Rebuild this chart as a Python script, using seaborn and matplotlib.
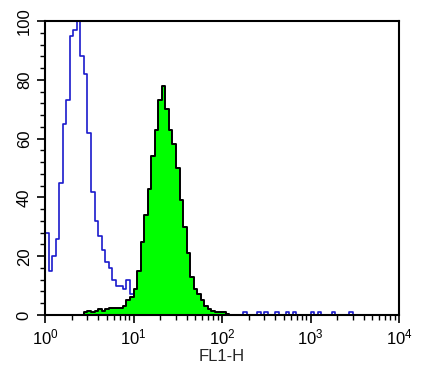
import numpy as np
import pandas as pd
import matplotlib
matplotlib.use("Agg")
import matplotlib.pyplot as plt
import seaborn as sns
from matplotlib.ticker import LogLocator, MultipleLocator

# 100 log-spaced channels over 4 decades (25 per decade)
n_bins = 100
decades = (0, 4)

control_counts = [
    28, 15, 20, 26, 45, 65, 73, 95, 97, 100,
    88, 82, 62, 42, 32, 27, 22, 18, 16, 12,
    10, 10, 9, 12, 7, 8, 5, 3, 2, 1,
    0, 0, 0, 0, 0, 0, 0, 0, 0, 0,
    0, 0, 0, 0, 0, 0, 0, 0, 0, 0,
    0, 0, 0, 0, 0, 0, 1, 0, 0, 0,
    1, 0, 1, 0, 0, 1, 0, 0, 1, 0,
    1, 0, 0, 0, 0, 1, 0, 1, 0, 0,
    0, 1, 0, 0, 0, 0, 1, 0, 0, 0,
    0, 0, 0, 0, 0, 0, 0, 0, 0, 0,
]
stained_counts = [
    0, 0, 0, 0, 0, 0, 0, 0, 0, 0,
    0, 1, 1.5, 1, 1.5, 2, 1.5, 2, 2.5, 2.5,
    2.5, 2.5, 3, 5, 6, 9, 15, 25, 34, 43,
    54, 63, 73, 78, 70, 63, 58, 50, 39, 30,
    21, 13, 9, 7, 5, 3, 2, 1.5, 1, 1,
    1, 0.5, 0, 0, 0, 0, 0, 0, 0, 0,
    0, 0, 0, 0, 0, 0, 0, 0, 0, 0,
    0, 0, 0, 0, 0, 0, 0, 0, 0, 0,
    0, 0, 0, 0, 0, 0, 0, 0, 0, 0,
    0, 0, 0, 0, 0, 0, 0, 0, 0, 0,
]

log_centers = decades[0] + (np.arange(n_bins) + 0.5) * (decades[1] - decades[0]) / n_bins
channels = 10 ** log_centers

df = pd.DataFrame({"FL1-H": channels,
                   "control": control_counts,
                   "stained": stained_counts})

sns.set_style("white")
plt.rcParams["font.family"] = ["Liberation Sans", "DejaVu Sans"]

fig = plt.figure(figsize=(4.22, 3.69), dpi=100)
ax = fig.add_axes([45 / 422, 1 - 315 / 369, (399 - 45) / 422, (315 - 21) / 369])

sns.histplot(data=df, x="FL1-H", weights="control", bins=n_bins, binrange=decades,
             log_scale=True, element="step", fill=False, color="#1a1acc",
             linewidth=1.2, zorder=2, ax=ax)
sns.histplot(data=df, x="FL1-H", weights="stained", bins=n_bins, binrange=decades,
             log_scale=True, element="step", fill=True, facecolor="#00ff00",
             edgecolor="black", alpha=1, linewidth=1.4, zorder=3, ax=ax)

ax.set_xlim(1, 1e4)
ax.set_ylim(0, 100)
ax.xaxis.set_major_locator(LogLocator(base=10, numticks=10))
ax.xaxis.set_minor_locator(LogLocator(base=10, subs=np.arange(2, 10), numticks=20))
ax.yaxis.set_major_locator(MultipleLocator(20))
ax.yaxis.set_minor_locator(MultipleLocator(4))

for s in ax.spines.values():
    s.set_visible(True)
    s.set_color("black")
    s.set_linewidth(1.5)
    s.set_zorder(5)

ax.tick_params(axis="both", which="major", direction="out", length=6, width=1.2,
               colors="black", labelsize=12, bottom=True, left=True)
ax.tick_params(axis="both", which="minor", direction="out", length=3.5, width=1,
               colors="black", bottom=True, left=True)
ax.tick_params(axis="x", pad=3)
for lbl in ax.get_yticklabels():
    lbl.set_rotation(90)
    lbl.set_va("center")

ax.set_xlabel("FL1-H", fontsize=12, labelpad=1)
ax.set_ylabel("")

fig.savefig("out.png", dpi=100)
